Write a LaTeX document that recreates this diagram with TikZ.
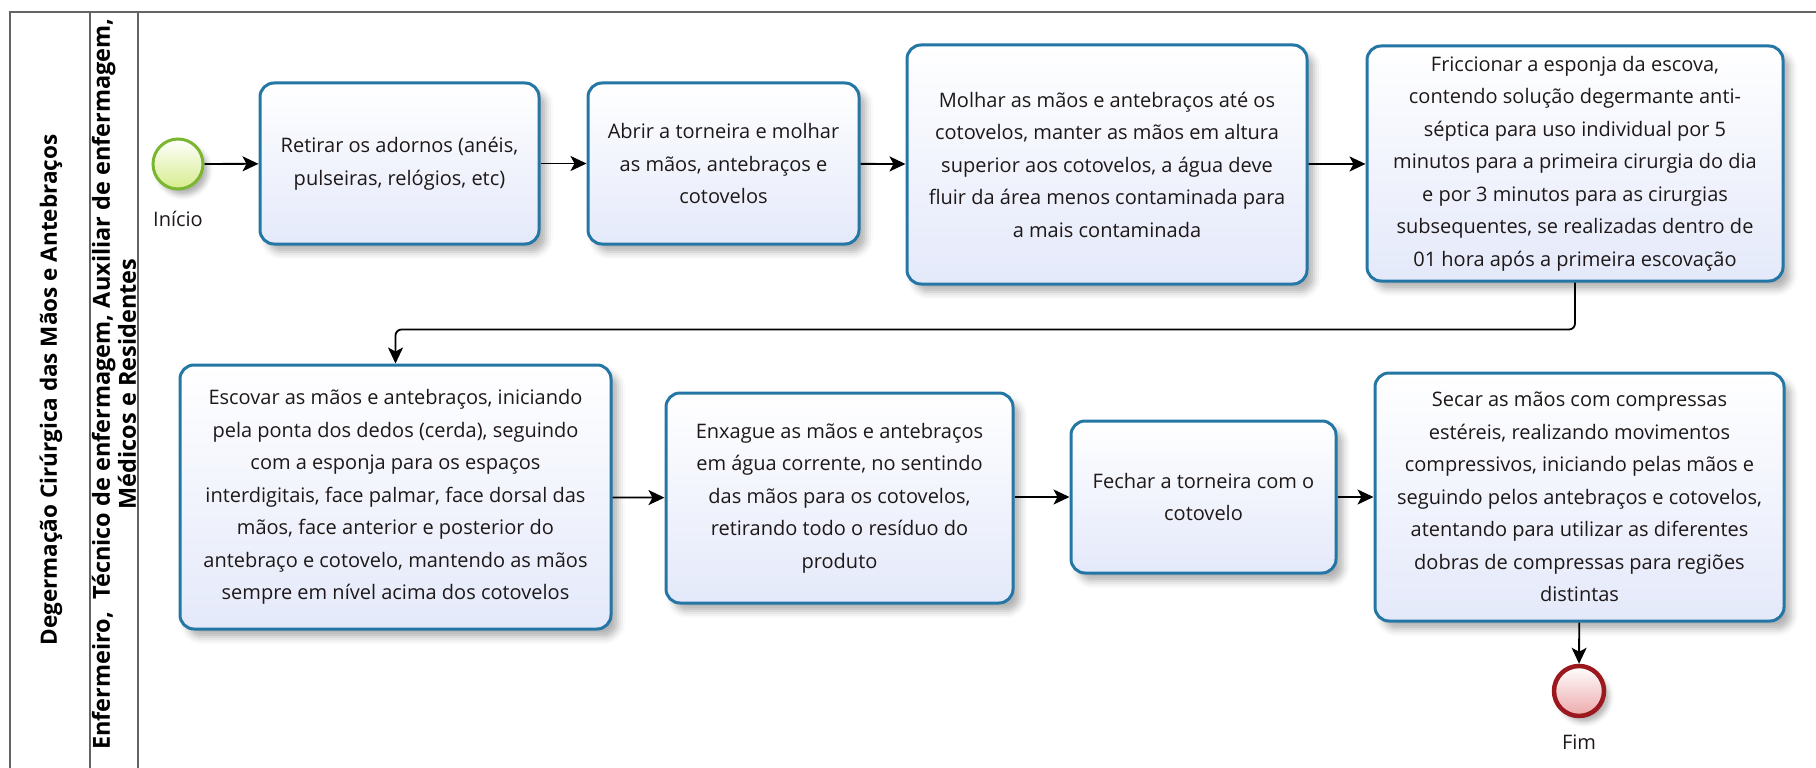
\documentclass[tikz,border=0pt]{standalone}
\usepackage{fontspec}
\setmainfont{Open Sans}
\usetikzlibrary{arrows.meta,shadows.blur}
\definecolor{bordatarefa}{RGB}{36,118,165}
\definecolor{fundotarefa}{RGB}{228,233,250}
\definecolor{bordainicio}{RGB}{122,182,48}
\definecolor{fundoinicio}{RGB}{214,236,140}
\definecolor{bordafim}{RGB}{155,25,30}
\definecolor{fundofim}{RGB}{236,168,170}
\definecolor{texto}{RGB}{30,24,24}
\definecolor{raia}{RGB}{100,100,100}
\begin{document}
\begin{tikzpicture}[x=1pt,y=-1pt,
  tarefa/.style={draw=bordatarefa, line width=3pt, rounded corners=14pt,
    top color=white, bottom color=fundotarefa, align=center, text=texto,
    font=\fontsize{20}{32.5}\selectfont, inner sep=0pt,
    blur shadow={shadow xshift=7pt, shadow yshift=-8pt, shadow opacity=30, shadow blur radius=7pt}},
  evento/.style={circle, minimum size=50pt, inner sep=0pt,
    blur shadow={shadow xshift=5pt, shadow yshift=-6pt, shadow opacity=30, shadow blur radius=5pt}},
  rotulo/.style={text=texto, font=\fontsize{20}{24}\selectfont},
  fluxo/.style={line width=1.8pt, -{Stealth[length=16pt,width=15pt,inset=4pt]}},
  titulo/.style={rotate=90, font=\bfseries\fontsize{23.5}{26}\selectfont, align=center, inner sep=0pt}]
\useasboundingbox (0,0) rectangle (1816,768);
% Raias
\draw[raia, line width=1.5pt] (10,768) -- (10,12) -- (1816,12);
\draw[raia, line width=1.5pt] (90,12) -- (90,768) (138,12) -- (138,768);
\node[titulo, font=\bfseries\fontsize{22.5}{26}\selectfont] (node processo) at (51,390) {Degermação Cirúrgica das Mãos e Antebraços};
\node[titulo] (node equipe) at (114,384) {Enfermeiro, \ Técnico de enfermagem, Auxiliar de enfermagem,\\ Médicos e Residentes};
% Eventos
\draw (178,164) node[evento, draw=bordainicio, line width=3pt, top color=white, bottom color=fundoinicio] (node inicio) {}
      (178,219) node[rotulo] (node label inicio) {Início}
      (1579,691) node[evento, draw=bordafim, line width=4.5pt, top color=white, bottom color=fundofim] (node fim) {}
      (1579,742) node[rotulo] (node label fim) {Fim};
% Primeira linha de tarefas
\draw (399.5,163.5) node[tarefa, minimum width=279pt, minimum height=161pt] (node adornos)
        {Retirar os adornos (anéis,\\ pulseiras, relógios, etc)}
      (723.5,163.5) node[tarefa, minimum width=271pt, minimum height=161pt] (node torneira)
        {Abrir a torneira e molhar\\ as mãos, antebraços e\\ cotovelos}
      (1107,164.5) node[tarefa, minimum width=400pt, minimum height=239pt] (node molhar)
        {Molhar as mãos e antebraços até os\\ cotovelos, manter as mãos em altura\\ superior aos cotovelos, a água deve\\ fluir da área menos contaminada para\\ a mais contaminada}
      (1575,163.5) node[tarefa, minimum width=416pt, minimum height=235pt] (node friccionar)
        {Friccionar a esponja da escova,\\ contendo solução degermante anti-\\ séptica para uso individual por 5\\ minutos para a primeira cirurgia do dia\\ e por 3 minutos para as cirurgias\\ subsequentes, se realizadas dentro de\\ 01 hora após a primeira escovação};
% Segunda linha de tarefas
\draw (395.5,497) node[tarefa, minimum width=431pt, minimum height=264pt] (node escovar)
        {Escovar as mãos e antebraços, iniciando\\ pela ponta dos dedos (cerda), seguindo\\ com a esponja para os espaços\\ interdigitais, face palmar, face dorsal das\\ mãos, face anterior e posterior do\\ antebraço e cotovelo, mantendo as mãos\\ sempre em nível acima dos cotovelos}
      (839.5,498) node[tarefa, minimum width=347pt, minimum height=210pt] (node enxague)
        {Enxague as mãos e antebraços\\ em água corrente, no sentindo\\ das mãos para os cotovelos,\\ retirando todo o resíduo do\\ produto}
      (1203.5,497) node[tarefa, minimum width=265pt, minimum height=152pt] (node fechar)
        {Fechar a torneira com o\\ cotovelo}
      (1579.5,497) node[tarefa, minimum width=409pt, minimum height=248pt] (node secar)
        {Secar as mãos com compressas\\ estéreis, realizando movimentos\\ compressivos, iniciando pelas mãos e\\ seguindo pelos antebraços e cotovelos,\\ atentando para utilizar as diferentes\\ dobras de compressas para regiões\\ distintas};
% Fluxo
\draw[fluxo] (node inicio) -- (node adornos);
\draw[fluxo] (node adornos) -- (node torneira);
\draw[fluxo] (node torneira) -- (node molhar);
\draw[fluxo] (node molhar) -- (node friccionar);
% Descida para a segunda linha
\draw[fluxo, rounded corners=6pt] (node friccionar.south) -- ++(0,47) -| (node escovar.north);
\draw[fluxo] (node escovar) -- (node enxague);
\draw[fluxo] (node enxague.east |- node fechar.west) -- (node fechar);
\draw[fluxo] (node fechar) -- (node secar);
\draw[fluxo] (node secar) -- (node fim);
\end{tikzpicture}
\end{document}
